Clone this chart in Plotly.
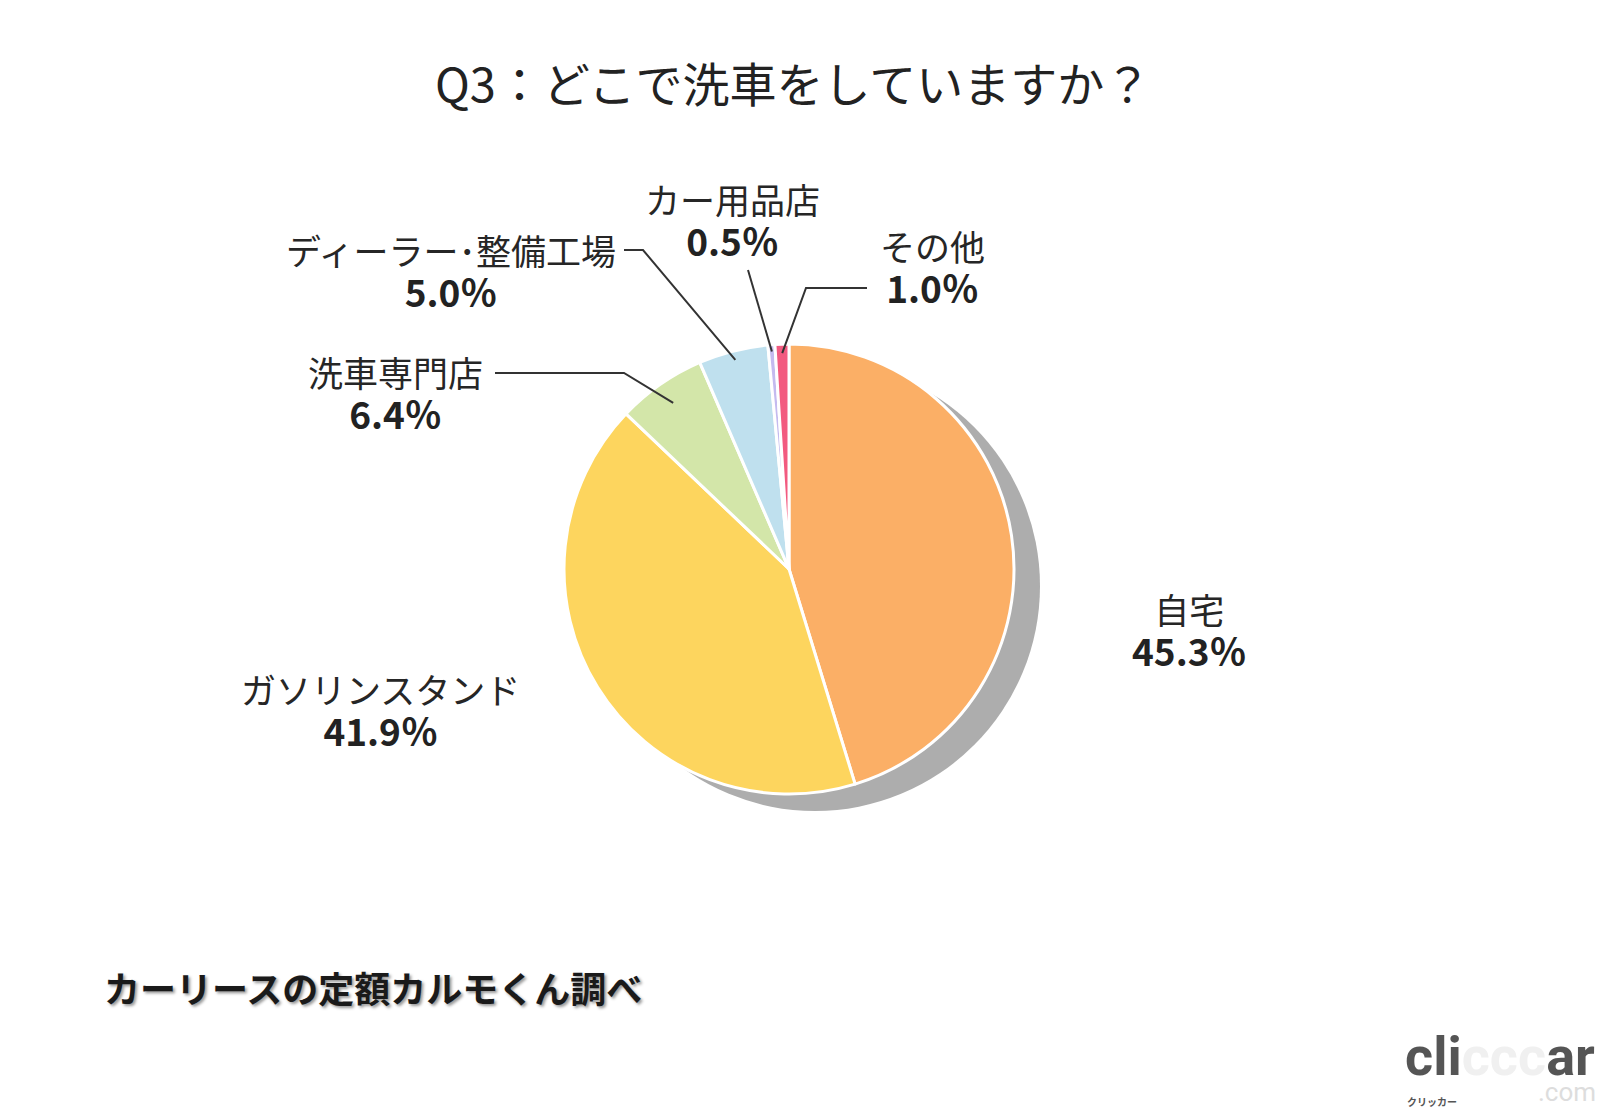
import math
import plotly.graph_objects as go

# ---- data ----
categories = ["自宅", "ガソリンスタンド", "洗車専門店", "ディーラー･整備工場", "カー用品店", "その他"]
values = [45.3, 41.9, 6.4, 5.0, 0.5, 1.0]
pct_labels = ["45.3％", "41.9％", "6.4％", "5.0％", "0.5％", "1.0％"]
colors = ["#FBAF66", "#FDD55E", "#D3E6A9", "#BFE0EE", "#C4BAEF", "#F25A80"]

title_text = "Q3：どこで洗車をしていますか？"
source_text = "カーリースの定額カルモくん調べ"

W, H = 1600, 1109
FONT = "Noto Sans CJK JP"

# pie geometry (pixels)
PCX, PCY, PR = 789, 569, 225
dom_x = [(PCX - PR) / W, (PCX + PR) / W]
dom_y = [1 - (PCY + PR) / H, 1 - (PCY - PR) / H]

def px(x):
    return x / W

def py(y):
    return 1 - y / H

fig = go.Figure()
fig.add_trace(go.Pie(
    labels=categories, values=values, sort=False, direction="clockwise", rotation=0,
    marker=dict(colors=colors, line=dict(color="white", width=3)),
    textinfo="none", hoverinfo="label+percent", showlegend=False,
    domain=dict(x=dom_x, y=dom_y),
))

shapes = []
# drop shadow behind the pie
SDX, SDY = 26, 17
shapes.append(dict(type="circle", xref="paper", yref="paper", layer="below",
                   x0=px(PCX - PR + SDX), x1=px(PCX + PR + SDX),
                   y0=py(PCY + PR + SDY), y1=py(PCY - PR + SDY),
                   fillcolor="#ADADAD", line=dict(width=0)))

total = sum(values)
cum = 0
mids = []
for v in values:
    mids.append((cum + v / 2) / total * 2 * math.pi)
    cum += v

def slice_point(i, f):
    a = mids[i]
    return PCX + PR * f * math.sin(a), PCY - PR * f * math.cos(a)

# label layout (pixels): centre x, centre y of the two-line block
label_layout = {
    0: dict(x=1189, y=630, knees=None, f=None),
    1: dict(x=380, y=710, knees=None, f=None),
    2: dict(x=395, y=393, knees=[(495, 373), (624, 373)], f=0.90),
    3: dict(x=451, y=271, knees=[(624, 250), (643, 250)], f=0.96),
    4: dict(x=732, y=220, knees=[(748, 270)], f=0.97),
    5: dict(x=932, y=267, knees=[(867, 288), (806, 288)], f=0.96),
}

annotations = []
for i, cat in enumerate(categories):
    L = label_layout[i]
    txt = (f"<span style='font-size:35px;color:#262626'>{cat}</span><br>"
           f"<b><span style='font-size:37px'>{pct_labels[i]}</span></b>")
    annotations.append(dict(x=px(L["x"]), y=py(L["y"]), xref="paper", yref="paper",
                            text=txt, showarrow=False, xanchor="center", yanchor="middle",
                            align="center",
                            font=dict(family=FONT, size=32, color="#222222")))
    if L["knees"]:
        ex, ey = slice_point(i, L["f"])
        pts = L["knees"] + [(ex, ey)]
        path = "M " + " L ".join(f"{px(x):.5f} {py(y):.5f}" for x, y in pts)
        shapes.append(dict(type="path", xref="paper", yref="paper", path=path,
                           line=dict(color="#333333", width=2)))

# title
annotations.append(dict(x=px(793), y=py(82), xref="paper", yref="paper", text=title_text,
                        showarrow=False, xanchor="center", yanchor="middle",
                        font=dict(family=FONT, size=47, color="#222222")))
# source note
annotations.append(dict(x=px(102), y=py(987), xref="paper", yref="paper", text=source_text,
                        showarrow=False, xanchor="left", yanchor="middle",
                        font=dict(family=FONT, size=36, color="#1a1a1a", weight="bold",
                                  shadow="2px 2px 3px #999999")))
# logo
annotations.append(dict(x=px(1403), y=py(1090), xref="paper", yref="paper",
                        text="cli<span style='color:#f0f0f0'>ccc</span>ar",
                        showarrow=False, xanchor="left", yanchor="bottom",
                        font=dict(family="Roboto", size=54, color="#555555", weight="bold")))
annotations.append(dict(x=px(1405), y=py(1101), xref="paper", yref="paper", text="クリッカー",
                        showarrow=False, xanchor="left", yanchor="middle",
                        font=dict(family=FONT, size=10, color="#555555", weight="bold")))
annotations.append(dict(x=px(1598), y=py(1109), xref="paper", yref="paper", text=".com",
                        showarrow=False, xanchor="right", yanchor="bottom",
                        font=dict(family="Roboto", size=26, color="#dddddd")))

fig.update_layout(
    width=W, height=H, margin=dict(l=0, r=0, t=0, b=0),
    paper_bgcolor="white", plot_bgcolor="white",
    shapes=shapes, annotations=annotations, showlegend=False,
)

fig.write_html("out.html", config={"displayModeBar": False},
               post_script="document.body.style.margin='0';document.body.style.overflow='hidden';")
